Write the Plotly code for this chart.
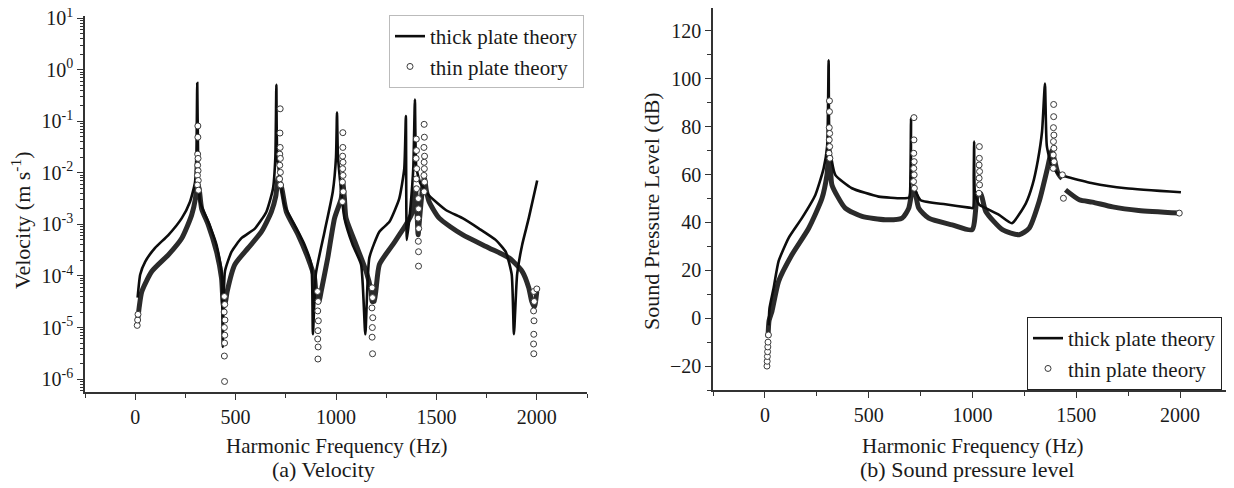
import plotly.graph_objects as go

# ---- (a) Velocity, m/s ----
vel_thick_f = [12, 25, 50, 99, 165, 232, 273, 298, 305, 309, 313, 323, 364, 405, 430, 436, 447, 480, 529, 596,
               653, 686, 698, 703, 708, 744, 794, 844, 877, 885, 900, 943, 984, 1000, 1005, 1010, 1042, 1083, 1125, 1146,
               1166, 1216, 1266, 1315, 1340, 1348, 1353, 1370, 1385, 1393, 1400, 1420, 1464, 1547, 1630, 1712, 1795, 1845, 1875, 1886,
               1902, 1927, 1960, 2002]
vel_thick_v = [3.8e-5, 1.07e-4, 1.9e-4, 3.5e-4, 6.2e-4, 1.32e-3, 2.75e-3, 6.6e-3, 2.5e-2, 0.55,
               2.5e-2, 2.75e-3, 1.12e-3, 4.0e-4, 1.23e-4, 4.2e-6, 1.23e-4, 2.95e-4, 5.4e-4, 8.3e-4,
               1.74e-3, 4.9e-3, 2.0e-2, 0.51, 2.0e-2, 2.34e-3, 9.8e-4, 4.0e-4, 1.66e-4, 7.4e-6,
               1.12e-4, 7.2e-4, 4.3e-3, 2.0e-2, 0.148, 2.0e-2, 1.32e-3, 4.0e-4, 1.66e-4, 7.4e-6,
               2.24e-4, 7.2e-4, 1.12e-3, 3.16e-3, 1.2e-2, 0.126, 5.0e-4, 2.0e-3, 1.26e-2, 0.263,
               1.26e-2, 6.3e-3, 3.6e-3, 1.9e-3, 1.32e-3, 8.3e-4, 5.0e-4, 2.95e-4, 1.07e-4, 7.4e-6,
               1.07e-4, 4.0e-4, 1.32e-3, 7.1e-3]

# thin plate: smooth dense band
vel_thin_f = [10, 20, 33, 83, 165, 232, 281, 300, 308, 318, 331, 364, 405, 430, 440, 450, 458, 496, 563, 629,
              678, 700, 712, 730, 753, 811, 860, 893, 905, 915, 926, 959, 993, 1026, 1034, 1042, 1050, 1100, 1150, 1175,
              1180, 1190, 1216, 1282, 1348, 1381, 1395, 1403, 1409, 1416, 1428, 1440, 1450, 1464, 1514, 1630, 1762, 1861, 1927, 1960,
              1975, 1988, 2000]
vel_thin_v = [1.1e-5, 2.5e-5, 5.0e-5, 1.23e-4, 2.57e-4, 5.4e-4, 1.51e-3, 3.16e-3, 6.3e-3, 5.0e-3,
              2.0e-3, 9.8e-4, 2.95e-4, 9.1e-5, 2.5e-5, 3.2e-5, 5.0e-5, 1.66e-4, 3.5e-4, 7.2e-4,
              1.74e-3, 3.5e-3, 7.9e-3, 5.0e-3, 1.74e-3, 6.3e-4, 2.24e-4, 9.1e-5, 3.2e-5, 3.2e-5,
              5.0e-5, 2.24e-4, 1.32e-3, 3.16e-3, 6.3e-3, 3.16e-3, 1.32e-3, 4.0e-4, 1.23e-4, 5.0e-5,
              3.2e-5, 3.2e-5, 1.66e-4, 4.0e-4, 9.8e-4, 1.74e-3, 5.0e-3, 2.0e-3, 6.3e-4, 1.26e-3,
              4.0e-3, 7.9e-3, 4.5e-3, 2.75e-3, 1.32e-3, 6.3e-4, 3.5e-4, 2.24e-4, 1.23e-4, 5.9e-5,
              3.2e-5, 2.5e-5, 5.0e-5]

# thin plate: separated circles near resonances / anti-resonances
vel_pts_f = [10, 12, 14,
             312, 312, 311, 313, 311, 313, 310, 314, 310, 315,
             444, 446, 443, 447, 444, 446, 445, 444, 445,
             722, 721, 722, 720, 723, 720, 723, 719, 724,
             908, 911, 909, 912, 910, 909, 911, 910,
             1034, 1034, 1033, 1035, 1033, 1035, 1032, 1036, 1032,
             1180, 1182, 1179, 1183, 1181, 1180, 1182,
             1400, 1401, 1399, 1402, 1400, 1401,
             1410, 1411, 1409, 1412, 1410, 1411, 1411,
             1439, 1440, 1438, 1441, 1439, 1440, 1438, 1441, 1439,
             1985, 1987, 1984, 1986, 1985, 1984, 1985, 2000]
vel_pts_v = [1.1e-5, 1.4e-5, 1.8e-5,
             8.1e-2, 4.9e-2, 2.3e-2, 1.9e-2, 1.4e-2, 1.1e-2, 8.9e-3, 7.1e-3, 5.8e-3, 4.6e-3,
             4.0e-5, 2.8e-5, 2.0e-5, 1.4e-5, 1.0e-5, 7.1e-6, 5.0e-6, 2.8e-6, 9e-7,
             0.174, 5.9e-2, 3.1e-2, 2.3e-2, 1.9e-2, 1.4e-2, 1.02e-2, 7.6e-3, 5.8e-3,
             5.0e-5, 3.2e-5, 2.1e-5, 1.35e-5, 8.7e-6, 6.0e-6, 4.2e-6, 2.45e-6,
             6.0e-2, 3.1e-2, 2.1e-2, 1.6e-2, 1.2e-2, 8.9e-3, 6.6e-3, 4.3e-3, 2.75e-3,
             5.9e-5, 3.8e-5, 2.4e-5, 1.55e-5, 1.0e-5, 6.5e-6, 3.1e-6,
             4.5e-2, 2.7e-2, 1.9e-2, 1.2e-2, 7.6e-3, 4.9e-3,
             3.16e-3, 2.0e-3, 1.32e-3, 8.3e-4, 4.7e-4, 2.95e-4, 1.55e-4,
             8.7e-2, 4.9e-2, 3.1e-2, 2.1e-2, 1.6e-2, 1.2e-2, 8.9e-3, 6.6e-3, 4.3e-3,
             5.0e-5, 3.2e-5, 2.1e-5, 1.35e-5, 7.4e-6, 4.8e-6, 3.1e-6, 5.6e-5]

# ---- (b) Sound pressure level, dB ----
spl_thick_f = [18, 22, 42, 66, 114, 178, 243, 283, 300, 307, 312, 339, 419, 548, 661, 695, 701, 704, 708, 749,
               869, 984, 1002, 1006, 1008, 1012, 1032, 1064, 1128, 1190, 1257, 1290, 1315, 1335, 1349, 1358, 1380, 1418, 1450, 1578,
               1739, 2004]
spl_thick_v = [-3, 4, 12.6, 23.8, 33.5, 41.8, 51.5, 62.6, 72, 107.8,
               72, 59.9, 54.3, 50.8, 50.1, 50.5, 60, 83.5, 58, 49.4,
               47.6, 46.2, 46, 60, 73.8, 52, 47.4, 46, 43.2, 39.7,
               48, 56, 66, 78, 98, 72, 64, 59.9, 59.2, 56.4,
               54.3, 52.6]

spl_thin_f = [15, 20, 34, 66, 130, 211, 275, 299, 306, 316, 323, 387, 468, 580, 661, 693, 712, 725, 741, 789,
              902, 998, 1025, 1040, 1064, 1144, 1225, 1273, 1321, 1361, 1382, 1395, 1410, 1425, 1432, None, 1448, 1514, 1578, 1675,
              1800, 1996]
spl_thin_v = [-8, -1, 2.9, 15.4, 26.5, 37.6, 50.1, 59.9, 66, 62, 55.7, 46, 42.5, 41.1, 41.8, 46, 54, 52, 46, 41.8,
              39, 37, 52, 52, 44.6, 37, 34.9, 37.6, 48.75, 62.6, 70, 66, 61, 59, 58.5, None, 53.6, 49.5, 48.5, 46.5,
              45, 43.9]

spl_pts_f = [10, 11, 12, 13, 14, 15, 17,
             311, 311, 310, 312, 310, 312, 309, 313,
             718, 718, 717, 719, 717, 719, 716, 720,
             1033, 1033, 1032, 1034, 1032, 1034, 1031,
             1391, 1391, 1390, 1392, 1390, 1392, 1389, 1393, 1389,
             1433, 1438, 1996]
spl_pts_v = [-20, -18, -16, -14, -12, -10, -7,
             90.8, 86.3, 79.6, 77.2, 74.5, 71.7, 68.9, 66.8,
             83.8, 74.5, 68.9, 65.4, 62.6, 59.9, 57.1, 54.3,
             71.7, 66.8, 64, 61.3, 58.5, 55.7, 52.2,
             89.3, 84.2, 79.6, 76.5, 73.8, 71, 68.2, 65.4, 62.6,
             59.9, 50.1, 43.9]

log_ticks = [1e-6, 1e-5, 1e-4, 1e-3, 1e-2, 1e-1, 1e0, 1e1]
log_labels = ['10<sup>-6</sup>', '10<sup>-5</sup>', '10<sup>-4</sup>', '10<sup>-3</sup>',
              '10<sup>-2</sup>', '10<sup>-1</sup>', '10<sup>0</sup>', '10<sup>1</sup>']

# the page body has an 8px margin, so the figure is drawn 8px in from the top-left
OFF = 8
W, H = 1234 - OFF, 488 - OFF
FONT = '"Times New Roman", "Liberation Serif", Times, serif'
INK = '#1a1a1a'


def px(x):
    # screen x -> paper fraction
    return min(1.0, max(0.0, (x - OFF) / W))


def py(y):
    # screen y -> paper fraction
    return min(1.0, max(0.0, (H - (y - OFF)) / H))


band = dict(color='#2b2b2b', width=5, shape='spline', smoothing=0.6)
thick = dict(color='#0d0d0d', width=2.6, shape='spline', smoothing=0.5)
circ = dict(symbol='circle', size=6, color='white', line=dict(color='#3a3a3a', width=1))

fig = go.Figure()
# left panel
fig.add_trace(go.Scatter(x=vel_thin_f, y=vel_thin_v, mode='lines', line=band, showlegend=False,
                         xaxis='x', yaxis='y'))
fig.add_trace(go.Scatter(x=vel_thick_f, y=vel_thick_v, mode='lines', line=thick, name='thick plate theory',
                         xaxis='x', yaxis='y', legend='legend'))
fig.add_trace(go.Scatter(x=vel_pts_f, y=vel_pts_v, mode='markers', marker=circ, name='thin plate theory',
                         xaxis='x', yaxis='y', legend='legend'))
# right panel
fig.add_trace(go.Scatter(x=spl_thin_f, y=spl_thin_v, mode='lines', line=band, showlegend=False,
                         connectgaps=False, xaxis='x2', yaxis='y2'))
fig.add_trace(go.Scatter(x=spl_thick_f, y=spl_thick_v, mode='lines', line=thick, name='thick plate theory',
                         xaxis='x2', yaxis='y2', legend='legend2'))
fig.add_trace(go.Scatter(x=spl_pts_f, y=spl_pts_v, mode='markers', marker=circ, name='thin plate theory',
                         xaxis='x2', yaxis='y2', legend='legend2'))

axis_common = dict(showline=True, linecolor='#333', linewidth=1.5, ticks='outside', ticklen=6,
                   tickwidth=1.3, tickcolor='#333', showgrid=False, zeroline=False, automargin=False,
                   ticklabeloverflow='allow', tickfont=dict(family=FONT, size=20, color=INK))
xa = dict(axis_common, range=[-250, 2250], tick0=0, dtick=500,
          minor=dict(ticks='outside', ticklen=4, tickcolor='#333', dtick=250, tick0=0, showgrid=False))

fig.update_layout(
    width=W, height=H, margin=dict(l=0, r=0, t=0, b=0),
    paper_bgcolor='white', plot_bgcolor='white',
    font=dict(family=FONT, color=INK),
    xaxis=dict(xa, domain=[px(85), px(587)], anchor='y'),
    yaxis=dict(axis_common, type='log', range=[-6.25, 1.04], domain=[py(392), py(16)], anchor='x',
               tickmode='array', tickvals=log_ticks, ticktext=log_labels,
               minor=dict(ticks='outside', ticklen=3, tickcolor='#333', dtick='D1', showgrid=False)),
    xaxis2=dict(xa, domain=[px(713), px(1232)], anchor='y2'),
    yaxis2=dict(axis_common, range=[-30, 129.6], tick0=0, dtick=20, domain=[py(390), py(8)], anchor='x2',
                minor=dict(ticks='outside', ticklen=4, tickcolor='#333', dtick=10, showgrid=False)),
    legend=dict(x=px(389), xanchor='left', y=py(15), yanchor='top', bgcolor='white',
                bordercolor='#bbbbbb', borderwidth=1, font=dict(family=FONT, size=21, color=INK),
                tracegroupgap=0),
    legend2=dict(x=px(1027), xanchor='left', y=py(317), yanchor='top', bgcolor='white',
                 bordercolor='#222222', borderwidth=1, font=dict(family=FONT, size=21, color=INK),
                 tracegroupgap=0),
)

notes = [
    (21, 221, 'Velocity (m s<sup>-1</sup>)', 22, -90),
    (651, 211, 'Sound Pressure Level (dB)', 22, -90),
    (337, 446, 'Harmonic Frequency (Hz)', 21, 0),
    (973, 446, 'Harmonic Frequency (Hz)', 21, 0),
    (323, 469, '(a) Velocity', 22, 0),
    (967, 469, '(b) Sound pressure level', 22, 0),
]
for x, y, txt, size, ang in notes:
    fig.add_annotation(x=px(x), y=py(y), xref='paper', yref='paper', text=txt, showarrow=False,
                       textangle=ang, xanchor='center', yanchor='middle',
                       font=dict(family=FONT, size=size, color=INK))

fig.write_html("out.html")
